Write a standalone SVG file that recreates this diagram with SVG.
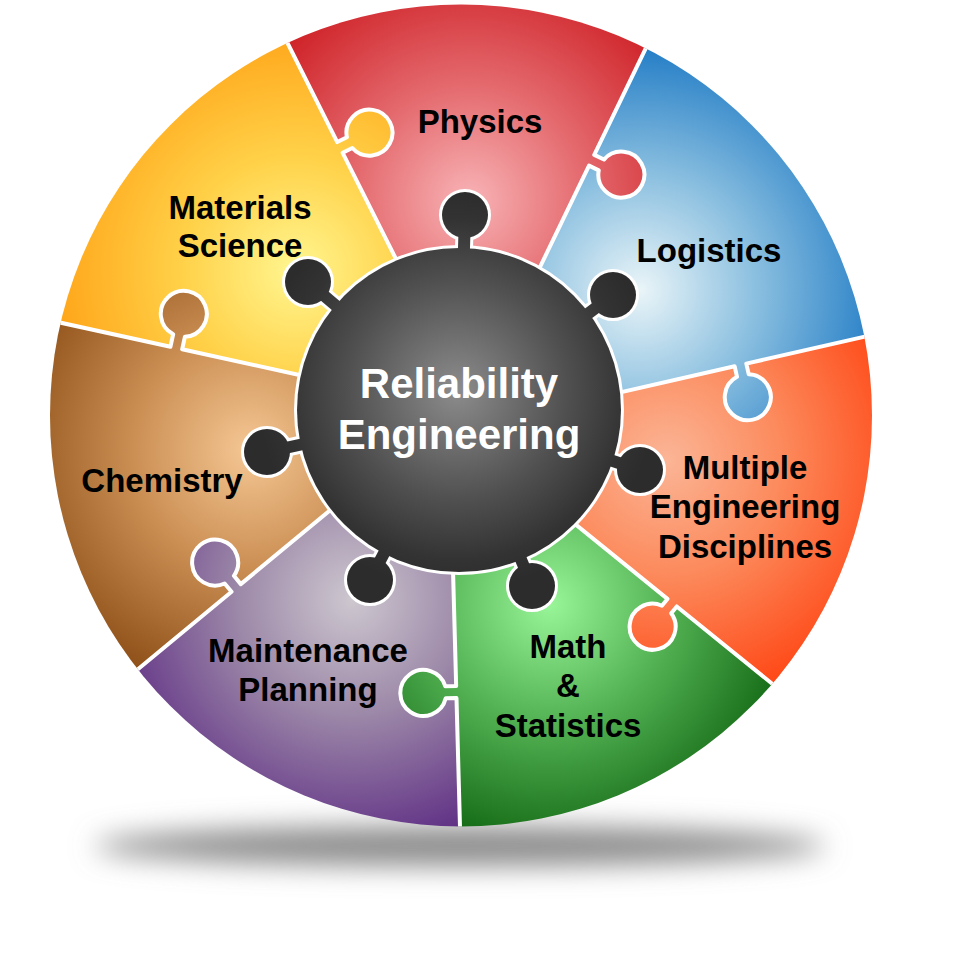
<svg xmlns="http://www.w3.org/2000/svg" width="955" height="962" viewBox="0 0 955 962">
<defs>
<style>
.lbl{font-family:"Liberation Sans",Arial,sans-serif;font-weight:bold;font-size:33px;fill:#000;text-anchor:middle}
.ctr{font-family:"Liberation Sans",Arial,sans-serif;font-weight:bold;font-size:42px;fill:#fff;text-anchor:middle}
.sep{fill:none;stroke:#fff;stroke-width:4;stroke-linejoin:round}
</style>
<filter id="blur" x="-20%" y="-300%" width="140%" height="700%"><feGaussianBlur stdDeviation="14"/></filter>
<clipPath id="disc"><circle cx="461" cy="415.5" r="411"/></clipPath>
<radialGradient id="gPhy" gradientUnits="userSpaceOnUse" cx="470" cy="200" r="255"><stop offset="0" stop-color="#f8b3b6"/><stop offset="0.45" stop-color="#e46a6e"/><stop offset="1" stop-color="#cc1a20"/></radialGradient>
<radialGradient id="gLog" gradientUnits="userSpaceOnUse" cx="640" cy="290" r="255"><stop offset="0" stop-color="#eaf5f8"/><stop offset="0.45" stop-color="#8cc0e0"/><stop offset="1" stop-color="#1b78c4"/></radialGradient>
<radialGradient id="gMul" gradientUnits="userSpaceOnUse" cx="667" cy="460" r="255"><stop offset="0" stop-color="#fbb596"/><stop offset="0.45" stop-color="#fc8a5c"/><stop offset="1" stop-color="#ff4412"/></radialGradient>
<radialGradient id="gMat" gradientUnits="userSpaceOnUse" cx="550" cy="604" r="255"><stop offset="0" stop-color="#98f598"/><stop offset="0.45" stop-color="#55b455"/><stop offset="1" stop-color="#0f6410"/></radialGradient>
<radialGradient id="gMai" gradientUnits="userSpaceOnUse" cx="352" cy="600" r="255"><stop offset="0" stop-color="#cdc7cf"/><stop offset="0.45" stop-color="#9c88a8"/><stop offset="1" stop-color="#5e2d84"/></radialGradient>
<radialGradient id="gChe" gradientUnits="userSpaceOnUse" cx="250" cy="450" r="255"><stop offset="0" stop-color="#f5c794"/><stop offset="0.45" stop-color="#cc9055"/><stop offset="1" stop-color="#8a4c14"/></radialGradient>
<radialGradient id="gMts" gradientUnits="userSpaceOnUse" cx="296" cy="270" r="255"><stop offset="0" stop-color="#fff690"/><stop offset="0.45" stop-color="#ffd148"/><stop offset="1" stop-color="#ffa115"/></radialGradient>
<radialGradient id="gCtr" gradientUnits="userSpaceOnUse" cx="457" cy="390" r="200"><stop offset="0" stop-color="#8c8c8c"/><stop offset="0.55" stop-color="#505050"/><stop offset="0.85" stop-color="#333"/><stop offset="1" stop-color="#2c2c2c"/></radialGradient>
</defs>

<ellipse id="shadow" cx="460" cy="846" rx="365" ry="20" fill="#8a8a8a" filter="url(#blur)"/>

<g clip-path="url(#disc)">
  <g id="physics"><polygon fill="url(#gPhy)" points="459,410 395,257 273.5,15.2 473,-285 658.1,23 540,267"/></g>
  <g id="logistics"><polygon fill="url(#gLog)" points="459,410 540,267 658.1,23 1018,-9 892.2,330.3 622,392"/></g>
  <g id="multiple"><polygon fill="url(#gMul)" points="459,410 622,392 892.2,330.3 1138,594 793.3,700.9 575,524"/></g>
  <g id="math"><polygon fill="url(#gMat)" points="459,410 575,524 793.3,700.9 751,1052 460.8,857 453,570"/></g>
  <g id="maintenance"><polygon fill="url(#gMai)" points="459,410 453,570 460.8,857 152,1043 113.9,689.1 328,512"/></g>
  <g id="chemistry"><polygon fill="url(#gChe)" points="459,410 328,512 113.9,689.1 -222,567 32.7,316.6 295,374"/></g>
  <g id="materials"><polygon fill="url(#gMts)" points="459,410 295,374 32.7,316.6 -80,-29 273.5,15.2 395,257"/></g>

  <g id="knobs">
    <line x1="336.4" y1="149.2" x2="369.5" y2="132.6" stroke="url(#gMts)" stroke-width="12"/><circle cx="369.5" cy="132.6" r="23" fill="url(#gMts)"/>
    <line x1="588.04" y1="158.53" x2="621.35" y2="174.64" stroke="url(#gPhy)" stroke-width="12"/><circle cx="621.35" cy="174.64" r="23" fill="url(#gPhy)"/>
    <line x1="739.56" y1="361.07" x2="747.8" y2="397.1" stroke="url(#gLog)" stroke-width="12"/><circle cx="747.8" cy="397.1" r="23" fill="url(#gLog)"/>
    <line x1="674.62" y1="599.56" x2="652.58" y2="626.76" stroke="url(#gMul)" stroke-width="12"/><circle cx="652.58" cy="626.76" r="23" fill="url(#gMul)"/>
    <line x1="460.32" y1="691.94" x2="423.33" y2="692.95" stroke="url(#gMat)" stroke-width="12"/><circle cx="423.33" cy="692.95" r="23" fill="url(#gMat)"/>
    <line x1="238.71" y1="591.05" x2="215.12" y2="562.54" stroke="url(#gMai)" stroke-width="12"/><circle cx="215.12" cy="562.54" r="23" fill="url(#gMai)"/>
    <line x1="175.45" y1="351.92" x2="183.78" y2="313.82" stroke="url(#gChe)" stroke-width="12"/><circle cx="183.78" cy="313.82" r="23" fill="url(#gChe)"/>
  </g>

  <g id="connectors">
    <path class="sep" transform="translate(287,42) rotate(63.33)" d="M-40,0 H112 V-10.8 A23,23 0 1 1 124,-10.8 V0 H270"/>
    <path class="sep" transform="translate(645,50) rotate(115.82)" d="M-40,0 H116.5 V-10.8 A23,23 0 1 1 128.5,-10.8 V0 H270"/>
    <path class="sep" transform="translate(863,337) rotate(167.14)" d="M-40,0 H119.7 V-10.8 A23,23 0 1 1 131.7,-10.8 V0 H277"/>
    <path class="sep" transform="translate(770,682) rotate(-140.98)" d="M-40,0 H120 V-8.8 A23,23 0 1 1 132,-8.8 V0 H280"/>
    <path class="sep" transform="translate(460,827) rotate(-91.56)" d="M-40,0 H129 V-10.8 A23,23 0 1 1 141,-10.8 V0 H285"/>
    <path class="sep" transform="translate(137,670) rotate(-39.6)" d="M-40,0 H122.7 V-10.8 A23,23 0 1 1 134.7,-10.8 V0 H275"/>
    <path class="sep" transform="translate(62,323) rotate(12.35)" d="M-40,0 H111 V-12.8 A23,23 0 1 1 123,-12.8 V0 H265"/>
  </g>
</g>

<g id="reliability">
  <g fill="#fff" stroke="#fff">
    <g stroke-width="18">
      <line x1="459" y1="410" x2="465" y2="215"/><line x1="459" y1="410" x2="613" y2="295"/><line x1="459" y1="410" x2="640" y2="470"/><line x1="459" y1="410" x2="532" y2="586"/><line x1="459" y1="410" x2="370" y2="580"/><line x1="459" y1="410" x2="267" y2="452"/><line x1="459" y1="410" x2="308" y2="282"/>
    </g>
    <g stroke-width="6">
      <circle cx="459" cy="410" r="162"/>
      <circle cx="465" cy="215" r="23"/><circle cx="613" cy="295" r="23"/><circle cx="640" cy="470" r="23"/><circle cx="532" cy="586" r="23"/><circle cx="370" cy="580" r="23"/><circle cx="267" cy="452" r="23"/><circle cx="308" cy="282" r="23"/>
    </g>
  </g>
  <g stroke="url(#gCtr)" stroke-width="12">
    <line x1="459" y1="410" x2="465" y2="215"/><line x1="459" y1="410" x2="613" y2="295"/><line x1="459" y1="410" x2="640" y2="470"/><line x1="459" y1="410" x2="532" y2="586"/><line x1="459" y1="410" x2="370" y2="580"/><line x1="459" y1="410" x2="267" y2="452"/><line x1="459" y1="410" x2="308" y2="282"/>
  </g>
  <g fill="url(#gCtr)">
    <circle cx="459" cy="410" r="162"/>
    <circle cx="465" cy="215" r="23"/><circle cx="613" cy="295" r="23"/><circle cx="640" cy="470" r="23"/><circle cx="532" cy="586" r="23"/><circle cx="370" cy="580" r="23"/><circle cx="267" cy="452" r="23"/><circle cx="308" cy="282" r="23"/>
  </g>
  <text class="ctr" x="459" y="398">Reliability</text>
  <text class="ctr" x="459" y="449">Engineering</text>
</g>

<g id="labels">
  <text class="lbl" x="480" y="133">Physics</text>
  <text class="lbl" x="709" y="262">Logistics</text>
  <text class="lbl" x="745" y="479">Multiple</text>
  <text class="lbl" x="745" y="518">Engineering</text>
  <text class="lbl" x="745" y="558">Disciplines</text>
  <text class="lbl" x="568" y="658">Math</text>
  <text class="lbl" x="568" y="697">&amp;</text>
  <text class="lbl" x="568" y="737">Statistics</text>
  <text class="lbl" x="308" y="662">Maintenance</text>
  <text class="lbl" x="308" y="701">Planning</text>
  <text class="lbl" x="162" y="492">Chemistry</text>
  <text class="lbl" x="240" y="219">Materials</text>
  <text class="lbl" x="240" y="257">Science</text>
</g>
</svg>
